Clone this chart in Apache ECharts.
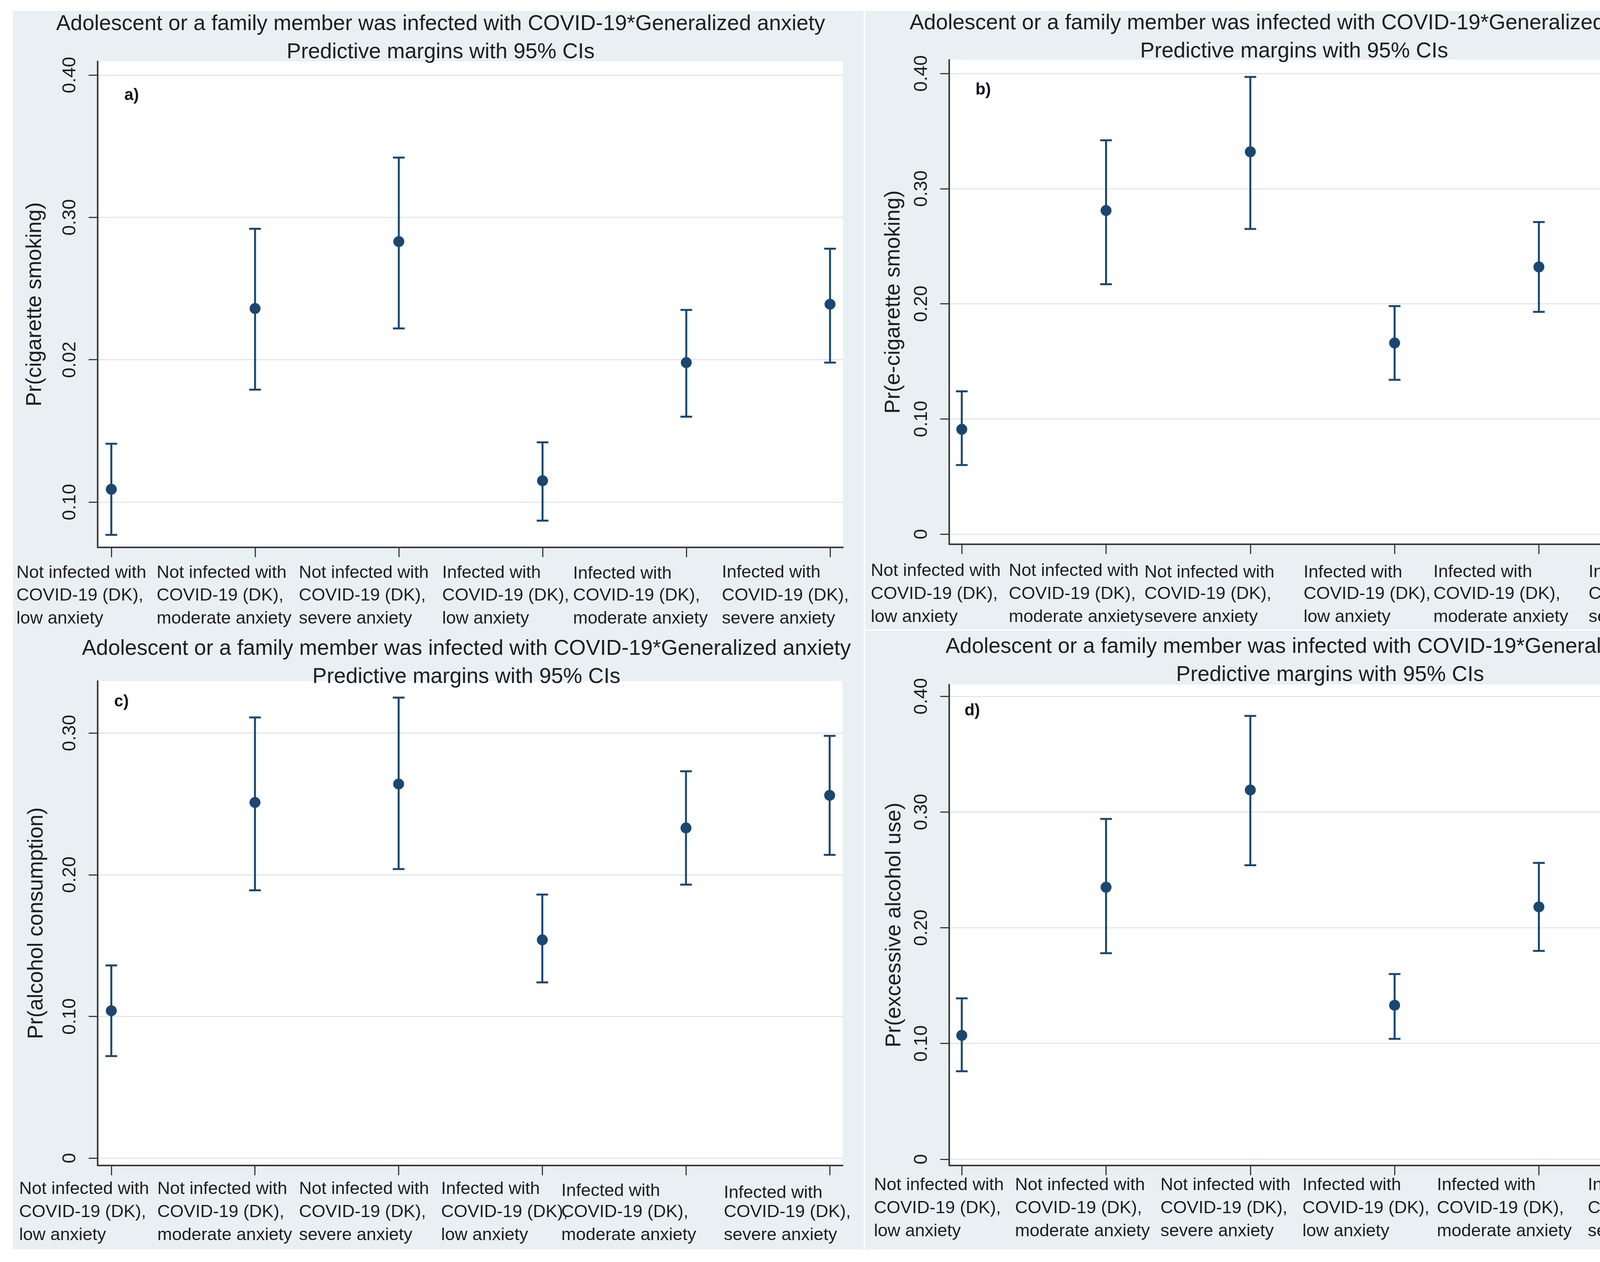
<!DOCTYPE html>
<html>
<head>
<meta charset="utf-8">
<script src="https://cdn.jsdelivr.net/npm/echarts@6/dist/echarts.min.js"></script>
<style>
html,body{margin:0;padding:0;background:#ffffff;overflow:hidden;}
#chart{width:4434px;height:3230px;}
</style>
</head>
<body>
<div id="chart"></div>
<script>
// ---------- DATA ----------
const categories = [
  "Not infected with\nCOVID-19 (DK),\nlow anxiety",
  "Not infected with\nCOVID-19 (DK),\nmoderate anxiety",
  "Not infected with\nCOVID-19 (DK),\nsevere anxiety",
  "Infected with\nCOVID-19 (DK),\nlow anxiety",
  "Infected with\nCOVID-19 (DK),\nmoderate anxiety",
  "Infected with\nCOVID-19 (DK),\nsevere anxiety"
];
const titleLine1 = "Adolescent or a family member was infected with COVID-19*Generalized anxiety";
const titleLine2 = "Predictive margins with 95% CIs";

// a) cigarette smoking
const cigMargin = [0.109, 0.236, 0.283, 0.115, 0.198, 0.239];
const cigLow    = [0.077, 0.179, 0.222, 0.087, 0.160, 0.198];
const cigHigh   = [0.141, 0.292, 0.342, 0.142, 0.235, 0.278];
const cigTickValues = [0.1, 0.2, 0.3, 0.4];
const cigTickLabels = ["0.10", "0.02", "0.30", "0.40"];

// b) e-cigarette smoking
const ecigMargin = [0.091, 0.281, 0.332, 0.166, 0.232, 0.288];
const ecigLow    = [0.060, 0.217, 0.265, 0.134, 0.193, 0.246];
const ecigHigh   = [0.124, 0.342, 0.397, 0.198, 0.271, 0.332];
const ecigTickValues = [0, 0.1, 0.2, 0.3, 0.4];
const ecigTickLabels = ["0", "0.10", "0.20", "0.30", "0.40"];

// c) alcohol consumption
const alcMargin = [0.104, 0.251, 0.264, 0.154, 0.233, 0.256];
const alcLow    = [0.072, 0.189, 0.204, 0.124, 0.193, 0.214];
const alcHigh   = [0.136, 0.311, 0.325, 0.186, 0.273, 0.298];
const alcTickValues = [0, 0.1, 0.2, 0.3];
const alcTickLabels = ["0", "0.10", "0.20", "0.30"];

// d) excessive alcohol use
const exMargin = [0.107, 0.235, 0.319, 0.133, 0.218, 0.275];
const exLow    = [0.076, 0.178, 0.254, 0.104, 0.180, 0.234];
const exHigh   = [0.139, 0.294, 0.383, 0.160, 0.256, 0.318];
const exTickValues = [0, 0.1, 0.2, 0.3, 0.4];
const exTickLabels = ["0", "0.10", "0.20", "0.30", "0.40"];

// ---------- LAYOUT / STYLE ----------
const FONT = "'Liberation Sans', Arial, sans-serif";
const NAVY = "#1a476f";
const BG = "#e9f0f3";
const TXT = "#1e1e1e";
const AXIS = "#3a3a3a";

const panels = [
  { tag: "a)", yName: "Pr(cigarette smoking)", m: cigMargin, lo: cigLow, hi: cigHigh,
    tv: cigTickValues, tl: cigTickLabels,
    grid: {left: 250, top: 157, width: 1908, height: 1244}, yMin: 0.0682, yMax: 0.4096, nameGap: 133,
    xMin: -0.095, xMax: 5.09,
    title: {x: 1123, top: 21}, tagPos: [337, 244],
    labMargin: 35, labOff: [243, 252, 256, 257, 290, 277], labDy: [2, 2, 2, 2, 6, 0] },
  { tag: "b)", yName: "Pr(e-cigarette smoking)", m: ecigMargin, lo: ecigLow, hi: ecigHigh,
    tv: ecigTickValues, tl: ecigTickLabels,
    grid: {left: 2430, top: 153, width: 1911, height: 1240}, yMin: -0.0088, yMax: 0.4119, nameGap: 115,
    xMin: -0.087, xMax: 5.087,
    title: {x: 3308, top: 19}, tagPos: [2517, 230],
    labMargin: 39, labOff: [233, 249, 271, 233, 270, 242], labDy: [0, 0, 8, 8, 6, 6] },
  { tag: "c)", yName: "Pr(alcohol consumption)", m: alcMargin, lo: alcLow, hi: alcHigh,
    tv: alcTickValues, tl: alcTickLabels,
    grid: {left: 250, top: 1743, width: 1907, height: 1240}, yMin: -0.0052, yMax: 0.3367, nameGap: 129,
    xMin: -0.095, xMax: 5.09,
    title: {x: 1189, top: 1620}, tagPos: [311, 1796],
    labMargin: 31, labOff: [236, 250, 255, 259, 319, 271], labDy: [0, 0, 0, 0, 10, 20] },
  { tag: "d)", yName: "Pr(excessive alcohol use)", m: exMargin, lo: exLow, hi: exHigh,
    tv: exTickValues, tl: exTickLabels,
    grid: {left: 2430, top: 1752, width: 1911, height: 1231}, yMin: -0.0054, yMax: 0.4101, nameGap: 113,
    xMin: -0.087, xMax: 5.087,
    title: {x: 3400, top: 1615}, tagPos: [2489, 1819],
    labMargin: 21, labOff: [225, 233, 230, 236, 261, 244], labDy: [0, 0, 0, 0, 0, 0] }
];

const idx = categories.map((_, i) => i);
const LABEL_FS = 45, LABEL_LH = 59;

const option = {
  backgroundColor: "#ffffff",
  animation: false,
  graphic: [
    {type: "rect", shape: {x: 33, y: 28, width: 2178, height: 3170}, style: {fill: BG}, z: -10},
    {type: "rect", shape: {x: 2215, y: 28, width: 2181, height: 1583}, style: {fill: BG}, z: -10},
    {type: "rect", shape: {x: 2215, y: 1614, width: 2181, height: 1584}, style: {fill: BG}, z: -10}
  ].concat(panels.map(p => ({
    type: "text", x: p.tagPos[0], y: p.tagPos[1], z: 10,
    style: {text: p.tag, fill: "#111122", font: "bold 42px " + FONT, textAlign: "center", textVerticalAlign: "middle"}
  }))),
  title: panels.map(p => ({
    text: titleLine1 + "\n" + titleLine2,
    left: p.title.x, top: p.title.top, textAlign: "center",
    textStyle: {fontFamily: FONT, fontSize: 55, fontWeight: "normal", color: TXT, lineHeight: 72}
  })),
  grid: panels.map(p => ({
    left: p.grid.left, top: p.grid.top, width: p.grid.width, height: p.grid.height,
    show: true, backgroundColor: "#ffffff", borderWidth: 0, containLabel: false
  })),
  xAxis: panels.map((p, g) => {
    const rich = {};
    idx.forEach(i => {
      rich["f" + i] = {width: p.labOff[i], align: "left", fontFamily: FONT, fontSize: LABEL_FS, color: TXT,
                       lineHeight: LABEL_LH, padding: [p.labDy[i], 0, 0, 0]};
      rich["l" + i] = {width: p.labOff[i], align: "left", fontFamily: FONT, fontSize: LABEL_FS, color: TXT,
                       lineHeight: LABEL_LH};
    });
    return {
      type: "value", gridIndex: g, min: p.xMin, max: p.xMax,
      axisLine: {show: true, onZero: false, lineStyle: {color: AXIS, width: 4}},
      axisTick: {show: true, customValues: idx, length: 25, lineStyle: {color: AXIS, width: 3}},
      splitLine: {show: false},
      axisLabel: {
        show: true, customValues: idx, align: "right", verticalAlign: "top", margin: p.labMargin,
        fontFamily: FONT, fontSize: LABEL_FS, color: TXT, lineHeight: LABEL_LH, rich: rich,
        formatter: function (v) {
          const i = Math.round(v);
          return categories[i].split("\n").map((t, k) => "{" + (k === 0 ? "f" : "l") + i + "|" + t + "}").join("\n");
        }
      }
    };
  }),
  yAxis: panels.map((p, g) => ({
    type: "value", gridIndex: g, min: p.yMin, max: p.yMax,
    name: p.yName, nameLocation: "middle", nameGap: p.nameGap, nameRotate: 90,
    nameTextStyle: {fontFamily: FONT, fontSize: 55, color: TXT},
    axisLine: {show: true, onZero: false, lineStyle: {color: AXIS, width: 4}},
    axisTick: {show: true, customValues: p.tv, length: 23, lineStyle: {color: AXIS, width: 3}},
    splitLine: {show: true, lineStyle: {color: "#e6e6e6", width: 3}},
    axisLabel: {
      show: true, customValues: p.tv, rotate: 90, margin: 46,
      fontFamily: FONT, fontSize: 48, color: TXT,
      formatter: function (v) {
        const k = p.tv.findIndex(t => Math.abs(t - v) < 1e-9);
        return k >= 0 ? p.tl[k] : "";
      }
    }
  })),
  series: []
};

panels.forEach((p, g) => {
  option.series.push({
    type: "custom", xAxisIndex: g, yAxisIndex: g, z: 3,
    data: idx.map(i => [i, p.lo[i], p.hi[i]]),
    renderItem: function (params, api) {
      const x = api.value(0);
      const a = api.coord([x, api.value(1)]);
      const b = api.coord([x, api.value(2)]);
      const hw = 15;
      const st = {stroke: NAVY, lineWidth: 5, fill: null};
      return {type: "group", children: [
        {type: "line", shape: {x1: a[0], y1: a[1], x2: b[0], y2: b[1]}, style: st},
        {type: "line", shape: {x1: a[0] - hw, y1: a[1], x2: a[0] + hw, y2: a[1]}, style: st},
        {type: "line", shape: {x1: b[0] - hw, y1: b[1], x2: b[0] + hw, y2: b[1]}, style: st}
      ]};
    }
  });
  option.series.push({
    type: "scatter", xAxisIndex: g, yAxisIndex: g, z: 4,
    symbol: "circle", symbolSize: 28,
    itemStyle: {color: NAVY, opacity: 1},
    data: idx.map(i => [i, p.m[i]])
  });
});

const chart = echarts.init(document.getElementById("chart"), null, {renderer: "canvas"});
chart.setOption(option);
</script>
</body>
</html>
